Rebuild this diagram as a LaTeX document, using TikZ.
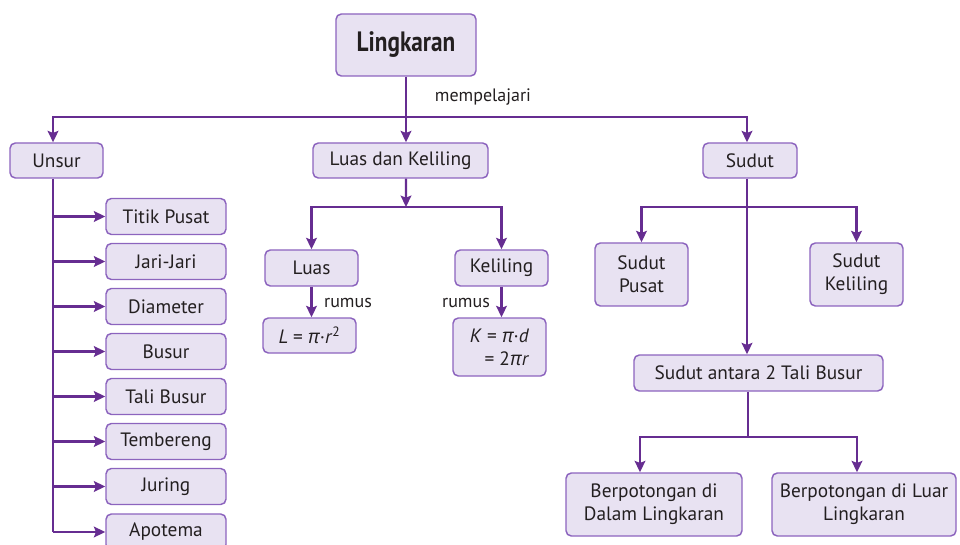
\documentclass[tikz,border=0pt]{standalone}
\usepackage{fontspec}
\setmainfont{PT Sans}
\newfontfamily\grk{Open Sans}
\usetikzlibrary{arrows.meta}

\definecolor{boxfill}{RGB}{232,226,242}
\definecolor{boxline}{RGB}{140,100,190}
\definecolor{linkcol}{RGB}{102,45,145}
\definecolor{inkcol}{RGB}{35,31,32}

\tikzset{
  topic/.style={draw=boxline, fill=boxfill, line width=1.1pt, rounded corners=4pt, text=inkcol,
    inner sep=0pt, align=center, font=\fontsize{14.5}{17.5}\selectfont},
  link/.style={draw=linkcol, line width=1.7pt, -{Stealth[length=8.5pt,width=8pt,inset=1.5pt]}},
  trunk/.style={draw=linkcol, line width=1.7pt},
  lbl/.style={font=\fontsize{13.5}{15}\selectfont, text=inkcol, inner sep=0pt},
}

\begin{document}
\begin{tikzpicture}[x=0.75pt,y=0.75pt,yscale=-1,xscale=1]
\useasboundingbox (0,0) rectangle (960,545);

% top
\node[topic, minimum width=105pt, minimum height=46.5pt, font=\fontsize{21}{24}\selectfont\bfseries] (root) at (406,45) {\scalebox{0.83}[1]{Lingkaran}};
\coordinate (hub) at (406,117);
\node[lbl] (mpl) at (483,97) {mempelajari};

% second row
\node[topic, minimum width=69.75pt, minimum height=26.25pt] (unsur) at (56.5,160.5) {Unsur};
\node[topic, minimum width=131.25pt, minimum height=26.25pt] (ldk) at (400.5,160.5) {Luas dan Keliling};
\node[topic, minimum width=70.5pt, minimum height=26.25pt] (sudut) at (750,160.5) {Sudut};

\draw[trunk] (root.south) -- (hub);
\draw[link] (hub) -- (hub |- ldk.north);
\draw[link] (hub) -| ([xshift=-2.6pt]unsur.north);
\draw[link] (hub) -| ([xshift=-2.25pt]sudut.north);

% unsur
\foreach \nm/\txt/\yy in {titik/Titik Pusat/216.5, jari/Jari-Jari/261.5, diam/Diameter/306.5,
  busur/Busur/351.5, tali/Tali Busur/396.5, temb/Tembereng/441.5, juring/Juring/486.5, apot/Apotema/532}
  \node[topic, minimum width=90pt, minimum height=27pt] (\nm) at (166,\yy) {\txt};
\draw[trunk] ([xshift=-2.6pt]unsur.south) -- ([xshift=-2.6pt]unsur.south |- apot.west);
\foreach \nm in {titik,jari,diam,busur,tali,temb,juring,apot}
  \draw[link] ([xshift=-2.6pt]unsur.south |- \nm.west) -- (\nm.west);

% luas dan keliling
\coordinate (lkhub) at (406,207);
\node[topic, minimum width=69.75pt, minimum height=27pt] (luas) at (311.5,268) {Luas};
\node[topic, minimum width=69.75pt, minimum height=27pt] (kel) at (501.5,268) {Keliling};
\node[topic, minimum width=69.75pt, minimum height=26.25pt] (rumL) at (309.5,335.5)
  {\textit{L} = {\grk\itshape π}·\textit{r}\textsuperscript{2}};
\node[topic, minimum width=69.75pt, minimum height=43.5pt, align=right] (rumK) at (499.5,347)
  {\textit{K} = {\grk\itshape π}·\textit{d}\\= 2{\grk\itshape π}\textit{r}};
\draw[link] ([xshift=4.1pt]ldk.south) -- (lkhub);
\draw[link] (lkhub) -| (luas.north);
\draw[link] (lkhub) -| (kel.north);
\draw[link] (luas.south) -- (luas.south |- rumL.north);
\draw[link] (kel.south) -- (kel.south |- rumK.north);
\node[lbl] (rumus1) at (348,303) {rumus};
\node[lbl] (rumus2) at (466,303) {rumus};

% sudut
\coordinate (sdhub) at (747,207);
\node[topic, minimum width=69.75pt, minimum height=47.25pt] (spusat) at (641.5,274.5) {Sudut\\Pusat};
\node[topic, minimum width=69.75pt, minimum height=47.25pt] (skel) at (856.5,274.5) {Sudut\\Keliling};
\node[topic, minimum width=186.75pt, minimum height=27pt] (santara) at (758.5,373) {Sudut antara 2 Tali Busur};
\draw[link] ([xshift=-2.25pt]sudut.south) -- ([xshift=-2.25pt]sudut.south |- santara.north);
\draw[link] (sdhub) -| (spusat.north);
\draw[link] (sdhub) -| (skel.north);

% tali busur
\coordinate (tbhub) at (748,437);
\node[topic, minimum width=132pt, minimum height=47.25pt] (dalam) at (654,504.5) {Berpotongan di\\Dalam Lingkaran};
\node[topic, minimum width=138pt, minimum height=47.25pt] (luar) at (864,504.5) {Berpotongan di Luar\\Lingkaran};
\draw[trunk] (santara.south -| tbhub) -- (tbhub);
\draw[link] (tbhub) -| ([xshift=-10.5pt]dalam.north);
\draw[link] (tbhub) -| ([xshift=-5.25pt]luar.north);

\end{tikzpicture}
\end{document}
